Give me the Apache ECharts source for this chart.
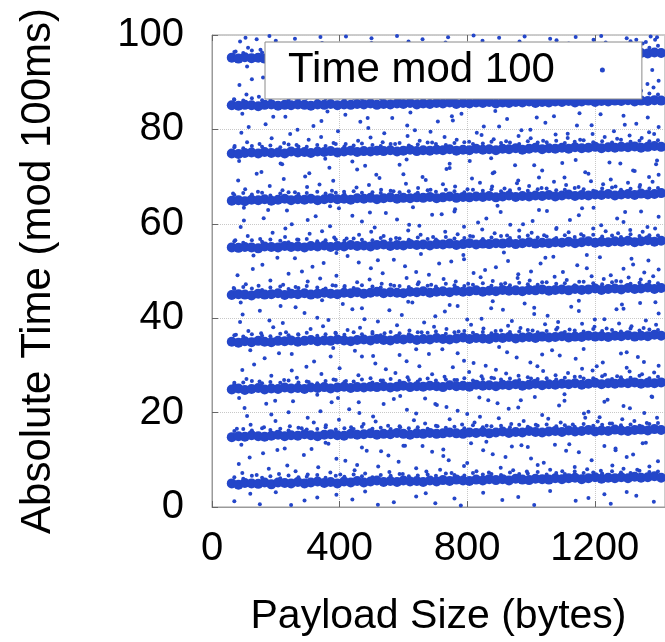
<!DOCTYPE html>
<html>
<head>
<meta charset="utf-8">
<script src="https://cdn.jsdelivr.net/npm/echarts@6/dist/echarts.min.js"></script>
<style>
  html, body { margin: 0; padding: 0; background: #fff; }
  #chart { width: 665px; height: 642px; }
</style>
</head>
<body>
<div id="chart"></div>
<script>
// axis ticks
const xTicks = [0, 400, 800, 1200];
const yTicks = [0, 20, 40, 60, 80, 100];

// payload sizes sampled along each dense band
const coreX = [62,83,103,124,145,165,186,207,228,248,269,290,310,331,352,372,393,414,435,455,
  476,497,517,538,559,580,600,621,642,662,683,704,724,745,766,787,807,828,849,869,
  890,911,931,952,973,994,1014,1035,1056,1076,1097,1118,1138,1159,1180,1201,1221,1242,1263,1283,
  1304,1325,1345,1366,1387,1408];

// dense band centres (time mod 100ms), one per 10ms slot
const core05 = [5.0,4.7,5.1,5.0,4.9,5.2,4.8,5.2,5.1,5.0,5.3,5.0,5.2,5.4,5.1,5.3,5.0,5.4,5.2,5.5,
  5.2,5.4,5.6,5.3,5.5,5.3,5.6,5.4,5.5,5.3,5.6,5.4,5.7,5.5,5.8,5.6,5.5,5.8,5.6,5.9,
  5.7,5.9,5.6,6.0,5.8,5.7,6.0,5.9,5.8,6.1,5.9,6.1,6.2,5.9,6.1,6.3,6.0,6.2,6.1,6.3,6.1,6.4,6.2,6.3,6.5,6.2];
const core15 = [14.8,15.0,14.9,15.2,15.0,14.9,15.1,15.3,15.0,15.2,15.1,15.4,15.2,15.0,15.3,15.4,15.2,15.1,15.5,15.3,
  15.4,15.6,15.3,15.5,15.4,15.7,15.5,15.3,15.6,15.5,15.7,15.5,15.6,15.8,15.6,15.5,15.8,15.7,15.9,15.6,
  15.8,16.0,15.7,15.9,15.8,16.1,15.9,15.8,16.0,16.1,15.9,16.2,16.0,16.1,16.3,16.0,16.2,16.1,16.4,16.2,16.1,16.3,16.4,16.2,16.5,16.3];
const core25 = [24.9,25.1,24.8,25.0,25.2,24.9,25.1,25.0,25.3,25.1,25.2,25.0,25.3,25.2,25.4,25.1,25.3,25.5,25.2,25.4,
  25.3,25.5,25.4,25.6,25.3,25.5,25.7,25.4,25.6,25.5,25.7,25.6,25.4,25.8,25.6,25.7,25.5,25.9,25.7,25.8,
  25.6,25.9,25.8,26.0,25.7,25.9,26.1,25.8,26.0,25.9,26.1,26.0,26.2,25.9,26.1,26.3,26.0,26.2,26.1,26.3,26.2,26.4,26.1,26.3,26.2,26.4];
const core35 = [35.0,34.8,35.1,34.9,35.2,35.0,34.9,35.2,35.1,35.3,35.0,35.2,35.4,35.1,35.3,35.2,35.5,35.3,35.1,35.4,
  35.5,35.3,35.6,35.4,35.3,35.6,35.5,35.7,35.4,35.6,35.5,35.8,35.6,35.5,35.7,35.9,35.6,35.8,35.7,35.6,
  35.9,35.8,36.0,35.7,35.9,36.0,35.8,36.1,35.9,36.0,36.2,35.9,36.1,36.0,36.3,36.1,36.2,36.0,36.3,36.2,36.4,36.1,36.3,36.2,36.5,36.3];
const core45 = [44.9,45.1,45.0,44.8,45.2,45.0,45.1,45.3,44.9,45.2,45.1,45.3,45.0,45.2,45.4,45.2,45.1,45.4,45.3,45.5,
  45.2,45.4,45.6,45.3,45.5,45.4,45.3,45.6,45.5,45.7,45.4,45.6,45.7,45.5,45.8,45.6,45.7,45.9,45.6,45.8,
  45.7,46.0,45.8,45.9,45.7,46.0,45.9,46.1,45.8,46.0,46.1,45.9,46.2,46.0,46.1,46.3,46.0,46.2,46.3,46.1,46.4,46.2,46.3,46.5,46.2,46.4];
const core55 = [55.0,54.9,55.1,55.0,54.8,55.2,55.1,55.0,55.3,55.1,55.2,55.0,55.3,55.2,55.4,55.1,55.3,55.2,55.5,55.3,
  55.4,55.2,55.5,55.6,55.3,55.5,55.4,55.7,55.5,55.6,55.4,55.7,55.6,55.8,55.5,55.7,55.9,55.6,55.8,55.7,
  55.9,55.8,56.0,55.7,55.9,56.1,55.8,56.0,55.9,56.1,56.0,56.2,55.9,56.1,56.3,56.0,56.2,56.1,56.3,56.2,56.4,56.1,56.3,56.5,56.2,56.4];
const core65 = [64.9,65.0,64.8,65.1,65.0,65.2,64.9,65.1,65.3,65.0,65.2,65.1,65.3,65.0,65.2,65.4,65.2,65.3,65.1,65.4,
  65.3,65.5,65.2,65.4,65.6,65.3,65.5,65.4,65.6,65.5,65.7,65.4,65.6,65.8,65.5,65.7,65.6,65.8,65.7,65.9,
  65.6,65.8,66.0,65.7,65.9,65.8,66.0,65.9,66.1,65.8,66.0,66.2,65.9,66.1,66.0,66.2,66.1,66.3,66.0,66.2,66.3,66.1,66.4,66.2,66.3,66.5];
const core75 = [74.9,74.8,75.0,75.1,74.9,75.2,75.0,75.1,74.9,75.3,75.1,75.2,75.0,75.3,75.2,75.4,75.1,75.3,75.5,75.2,
  75.4,75.3,75.5,75.4,75.6,75.3,75.5,75.7,75.4,75.6,75.5,75.7,75.6,75.8,75.5,75.7,75.6,75.9,75.7,75.8,
  75.6,75.9,75.8,76.0,75.7,75.9,76.1,75.8,76.0,75.9,76.1,75.9,76.2,76.0,76.1,76.3,76.0,76.2,76.1,76.3,76.2,76.4,76.1,76.3,76.5,76.3];
const core85 = [85.1,85.0,85.2,85.1,84.9,85.2,85.3,85.0,85.2,85.1,85.3,85.2,85.0,85.3,85.2,85.4,85.1,85.3,85.2,85.4,
  85.3,85.5,85.2,85.4,85.3,85.5,85.4,85.6,85.3,85.5,85.4,85.6,85.5,85.7,85.4,85.6,85.5,85.7,85.6,85.8,
  85.5,85.7,85.6,85.8,85.7,85.9,85.6,85.8,85.7,85.9,85.8,86.0,85.7,85.9,86.1,85.8,86.0,85.9,86.1,86.0,86.2,85.9,86.1,86.0,86.2,86.1];
const core95 = [95.2,95.0,95.3,95.1,95.2,95.0,95.3,95.2,95.1,95.4,95.2,95.3,95.1,95.4,95.3,95.5,95.2,95.4,95.3,95.5,
  95.4,95.6,95.3,95.5,95.4,95.6,95.5,95.7,95.4,95.6,95.5,95.7,95.6,95.8,95.5,95.7,95.6,95.8,95.7,95.9,
  95.6,95.8,95.7,95.9,95.8,96.0,95.7,95.9,95.8,96.0,95.9,96.1,95.8,96.0,96.2,95.9,96.1,96.0,96.2,96.1,96.3,96.0,96.2,96.1,96.3,96.2];

// payload sizes for the crowded rim just above each band
const rimX = [70,98,125,157,183,214,240,271,297,330,356,388,415,444,470,503,529,560,588,617,
  645,676,702,733,760,791,818,849,876,906,934,963,990,1021,1049,1079,1106,1137,1165,1195,
  1223,1254,1282,1312,1340,1371,1398];

const rim05 = [6.3,6.0,6.6,6.2,6.5,6.1,6.7,6.3,6.4,6.8,6.2,6.6,6.4,6.9,6.5,6.3,6.8,6.6,7.0,6.5,
  6.7,6.9,6.6,7.1,6.8,6.7,7.2,6.9,7.0,6.8,7.3,7.0,7.1,7.4,6.9,7.2,7.0,7.5,7.2,7.3,7.1,7.6,7.3,7.2,7.7,7.4,7.5];
const rim15 = [16.1,16.5,16.2,16.7,16.3,16.6,16.2,16.8,16.4,16.5,16.9,16.4,16.7,16.5,17.0,16.6,16.8,16.5,17.1,16.7,
  16.9,16.6,17.2,16.8,17.0,16.7,17.3,16.9,17.1,17.2,16.9,17.4,17.0,17.2,17.5,17.1,17.3,17.0,17.6,17.2,17.4,17.7,17.3,17.5,17.2,17.6,17.8];
const rim25 = [26.0,26.4,26.7,26.2,26.5,26.3,26.8,26.4,26.6,26.2,26.7,26.9,26.5,26.6,27.0,26.4,26.8,27.1,26.7,26.9,
  26.6,27.2,26.8,27.0,26.9,27.3,26.8,27.1,27.4,27.0,27.2,26.9,27.5,27.1,27.3,27.0,27.4,27.6,27.2,27.3,27.7,27.1,27.5,27.4,27.8,27.3,27.6];
const rim35 = [36.4,36.1,36.6,36.3,36.2,36.7,36.4,36.5,36.9,36.3,36.6,36.8,36.5,37.0,36.6,36.7,36.4,37.1,36.8,36.6,
  37.0,36.9,37.2,36.7,37.0,37.3,36.9,37.1,36.8,37.4,37.1,37.2,37.5,37.0,37.3,37.6,37.1,37.4,37.2,37.7,37.3,37.5,37.2,37.8,37.4,37.6,37.5];
const rim45 = [46.2,46.6,46.3,46.0,46.5,46.7,46.2,46.4,46.8,46.5,46.3,46.9,46.6,46.4,47.0,46.7,46.5,47.1,46.8,46.6,
  47.2,46.9,46.7,47.3,47.0,46.8,47.1,47.4,46.9,47.2,47.0,47.5,47.2,47.1,47.6,47.3,47.4,47.0,47.7,47.4,47.2,47.6,47.8,47.3,47.5,47.7,47.4];
const rim55 = [56.3,56.0,56.5,56.2,56.7,56.4,56.1,56.6,56.8,56.3,56.5,56.7,56.4,56.9,56.6,56.5,57.0,56.7,56.9,56.6,
  57.1,56.8,56.7,57.2,56.9,57.0,57.3,56.8,57.1,57.4,57.0,57.2,57.5,57.1,57.3,57.0,57.6,57.2,57.4,57.7,57.3,57.5,57.2,57.8,57.4,57.6,57.5];
const rim65 = [66.1,66.5,66.2,66.6,66.0,66.4,66.7,66.3,66.5,66.8,66.4,66.6,66.3,66.9,66.6,66.7,66.5,67.0,66.7,66.9,
  66.6,67.1,66.8,67.2,66.9,66.7,67.2,67.0,67.3,66.9,67.1,67.4,67.0,67.3,67.5,67.1,67.2,67.6,67.3,67.0,67.5,67.7,67.2,67.4,67.8,67.5,67.6];
const rim75 = [76.2,76.0,76.5,76.3,76.6,76.2,76.8,76.4,76.3,76.7,76.5,76.9,76.4,76.6,77.0,76.7,76.5,76.9,77.1,76.6,
  76.8,77.2,76.9,76.7,77.1,77.3,76.9,77.0,77.4,77.1,77.2,76.9,77.5,77.2,77.3,77.6,77.1,77.4,77.7,77.3,77.5,77.2,77.8,77.4,77.6,77.5,77.7];
const rim85 = [86.3,86.1,86.6,86.2,86.5,86.8,86.3,86.4,86.7,86.2,86.6,86.9,86.4,86.7,86.5,87.0,86.6,86.8,86.5,87.1,
  86.7,86.9,87.2,86.8,86.6,87.0,87.3,86.9,87.1,86.8,87.2,87.4,87.0,87.1,87.5,87.2,86.9,87.3,87.6,87.1,87.4,87.2,87.7,87.3,87.5,87.6,87.4];
const rim95 = [96.4,96.2,96.7,96.3,96.5,96.9,96.4,96.6,96.3,96.8,96.5,97.0,96.6,96.7,96.5,97.1,96.8,96.6,97.0,96.9,
  97.2,96.7,97.0,97.3,96.9,97.1,96.8,97.4,97.0,97.2,97.5,97.1,97.3,97.0,97.6,97.2,97.4,97.1,97.7,97.3,97.5,97.2,97.8,97.4,97.6,97.3,97.7];

// scattered packets around each band: [payload bytes, time mod 100]
const spread05 = [[95,7.2],[140,6.8],[178,8.1],[210,7.0],[262,7.6],[300,6.9],[333,8.4],[371,7.3],[402,6.9],[447,7.8],
  [480,7.1],[521,8.6],[556,7.4],[598,7.0],[640,8.2],[672,7.5],[715,7.9],[751,7.2],[790,8.7],[829,7.6],
  [868,7.3],[905,8.3],[944,7.8],[987,7.5],[1021,8.9],[1060,7.9],[1098,7.6],[1137,8.5],[1176,8.0],[1219,7.7],
  [1255,8.8],[1290,8.1],[1333,7.9],[1371,8.6],
  [118,10.5],[205,12.1],[288,11.0],[365,13.4],[418,9.8],[470,12.6],[553,10.9],[605,13.0],[690,11.7],[742,9.9],
  [812,13.5],[880,11.2],[940,12.8],[1000,10.3],[1075,13.2],[1150,11.6],[1230,12.9],[1300,10.6],[1360,13.6],
  [70,1.2],[150,0.6],[248,0.4],[330,2.0],[440,1.6],[520,0.5],[640,2.2],[700,0.8],[780,0.3],[910,1.5],
  [1010,0.4],[1180,1.9],[1250,0.7],[1330,2.4],[1385,1.1]];
const spread15 = [[78,16.6],[121,17.4],[163,16.9],[199,18.2],[244,17.1],[281,16.7],[319,17.9],[357,17.3],[398,18.5],[436,16.9],
  [475,17.6],[513,18.1],[552,17.2],[590,16.9],[633,18.4],[668,17.7],[707,17.1],[745,18.6],[784,17.5],[823,17.9],
  [861,17.2],[899,18.8],[938,17.6],[977,18.2],[1015,17.4],[1054,18.7],[1093,17.9],[1131,17.5],[1170,18.9],[1209,18.1],
  [1247,17.7],[1286,18.6],[1324,18.2],[1363,17.8],[1395,18.9],
  [102,21.0],[186,19.6],[254,22.4],[340,20.3],[395,23.1],[462,19.9],[538,21.8],[611,20.6],[668,23.0],[735,21.2],
  [800,19.7],[866,22.6],[930,20.8],[1012,23.3],[1088,21.5],[1166,19.8],[1240,22.7],[1310,20.9],[1378,23.4],
  [92,13.2],[228,12.4],[356,13.6],[485,11.9],[600,13.0],[725,12.2],[860,13.8],[990,12.7],[1120,13.3],[1265,12.0],[1350,13.5]];
const spread25 = [[70,26.3],[108,27.1],[149,26.6],[186,27.8],[226,26.9],[266,27.4],[303,26.5],[343,28.2],[381,27.0],[420,26.7],
  [459,27.9],[497,27.3],[536,26.8],[575,28.4],[613,27.5],[652,27.0],[690,28.1],[729,27.6],[768,26.9],[806,28.6],
  [845,27.7],[884,27.3],[922,28.3],[961,27.8],[1000,27.2],[1038,28.8],[1077,27.9],[1116,28.4],[1154,27.6],[1193,28.9],
  [1232,28.0],[1270,27.7],[1309,28.7],[1348,28.1],[1386,28.5],
  [132,30.2],[210,32.6],[296,29.7],[372,31.9],[448,33.1],[512,30.4],[588,32.2],[650,29.8],[722,33.4],[790,31.0],
  [858,29.9],[925,32.8],[998,30.6],[1066,33.2],[1140,31.4],[1206,29.8],[1282,32.5],[1354,30.7],
  [85,23.1],[198,22.5],[330,23.8],[460,22.2],[590,23.5],[700,21.8],[838,23.2],[968,22.6],[1105,23.9],[1230,22.3],[1380,23.3]];
const spread35 = [[75,36.5],[114,37.3],[154,36.8],[192,38.1],[232,37.0],[270,36.6],[309,37.7],[348,38.3],[387,36.9],[425,37.5],
  [464,38.0],[503,37.1],[541,36.8],[580,38.5],[619,37.4],[657,37.0],[696,38.2],[735,37.7],[773,37.2],[812,38.6],
  [851,37.8],[889,37.3],[928,38.4],[967,37.9],[1005,37.4],[1044,38.7],[1083,38.0],[1121,37.6],[1160,38.8],[1199,38.2],
  [1237,37.8],[1276,38.9],[1315,38.3],[1353,37.9],[1392,38.6],
  [96,40.8],[180,39.5],[262,42.3],[330,40.1],[410,43.0],[478,39.8],[556,41.7],[628,43.3],[700,40.4],[770,42.6],
  [845,39.9],[912,41.8],[980,43.1],[1052,40.5],[1126,42.4],[1200,39.7],[1268,41.9],[1342,43.2],
  [120,33.2],[250,32.4],[380,33.7],[505,32.0],[640,33.4],[770,32.6],[900,33.9],[1035,32.3],[1165,33.5],[1300,32.8]];
const spread45 = [[68,46.4],[106,47.2],[146,46.9],[183,48.0],[223,47.1],[262,46.6],[300,47.8],[339,48.4],[378,47.0],[416,46.8],
  [455,47.6],[494,48.2],[532,47.3],[571,46.9],[610,48.5],[648,47.6],[687,47.1],[726,48.3],[764,47.8],[803,47.3],
  [842,48.7],[880,47.9],[919,47.4],[958,48.5],[996,48.0],[1035,47.6],[1074,48.8],[1112,48.1],[1151,47.7],[1190,48.9],
  [1228,48.3],[1267,47.9],[1306,48.6],[1344,48.2],[1383,48.9],
  [128,50.4],[205,52.8],[282,49.9],[350,51.7],[425,53.2],[498,50.6],[570,52.4],[640,49.8],[712,51.6],[788,53.4],
  [856,50.2],[928,52.1],[1000,49.9],[1070,53.0],[1145,51.2],[1216,52.9],[1290,50.5],[1368,52.2],
  [90,43.3],[215,42.6],[345,43.8],[470,42.1],[615,43.5],[745,42.8],[880,43.6],[1010,42.2],[1150,43.7],[1285,42.9],[1390,43.4]];
const spread55 = [[73,56.5],[112,57.4],[151,56.8],[190,58.1],[229,57.2],[267,56.7],[306,57.9],[345,58.4],[383,57.1],[422,56.9],
  [461,57.7],[499,58.3],[538,57.4],[577,57.0],[615,58.6],[654,57.7],[693,57.2],[731,58.3],[770,57.8],[809,57.4],
  [847,58.8],[886,58.0],[925,57.5],[963,58.6],[1002,58.1],[1041,57.6],[1079,58.9],[1118,58.2],[1157,57.8],[1195,59.0],
  [1234,58.4],[1273,58.0],[1311,58.7],[1350,58.3],[1389,59.0],
  [100,60.7],[176,62.9],[250,59.9],[325,61.6],[398,63.3],[470,60.5],[545,62.3],[618,59.8],[690,61.9],[762,63.1],
  [834,60.3],[905,62.5],[975,59.9],[1050,62.7],[1122,60.8],[1196,63.4],[1270,61.1],[1345,62.6],
  [130,53.3],[260,52.7],[390,53.8],[520,52.3],[655,53.6],[790,52.5],[915,53.9],[1045,52.8],[1175,53.4],[1315,52.6]];
const spread65 = [[66,66.4],[104,67.3],[144,66.8],[181,68.0],[221,67.1],[260,66.7],[298,67.8],[337,68.3],[376,67.0],[414,66.8],
  [453,67.7],[492,68.2],[530,67.2],[569,66.9],[608,68.5],[646,67.6],[685,67.2],[724,68.4],[762,67.9],[801,67.3],
  [840,68.7],[878,67.9],[917,67.5],[956,68.6],[994,68.0],[1033,67.6],[1072,68.9],[1110,68.2],[1149,67.8],[1188,69.0],
  [1226,68.4],[1265,67.9],[1304,68.7],[1342,68.2],[1381,68.9],
  [140,70.6],[215,72.8],[292,70.0],[368,71.9],[440,73.2],[515,70.4],[588,72.5],[660,69.9],[735,71.6],[808,73.3],
  [880,70.7],[950,72.4],[1025,69.8],[1098,72.9],[1170,70.9],[1246,73.0],[1320,71.3],[1392,72.6],
  [100,63.4],[235,62.8],[370,63.7],[495,62.4],[630,63.5],[760,62.6],[895,63.8],[1025,62.9],[1160,63.3],[1295,62.5]];
const spread75 = [[71,76.5],[110,77.3],[149,76.9],[187,78.1],[226,77.1],[265,76.7],[303,77.8],[342,78.4],[381,77.1],[419,76.9],
  [458,77.6],[497,78.3],[535,77.3],[574,76.9],[613,78.6],[651,77.6],[690,77.2],[729,78.4],[767,77.8],[806,77.4],
  [845,78.8],[883,77.9],[922,77.5],[961,78.6],[999,78.1],[1038,77.6],[1077,78.9],[1115,78.2],[1154,77.8],[1193,79.0],
  [1231,78.4],[1270,78.0],[1309,78.7],[1347,78.2],[1386,79.0],
  [115,80.5],[192,82.7],[268,79.9],[343,81.8],[418,83.1],[490,80.3],[565,82.4],[636,79.8],[708,81.7],[782,83.3],
  [852,80.6],[925,82.2],[998,79.9],[1072,82.8],[1144,80.8],[1218,83.2],[1294,81.0],[1366,82.5],
  [85,73.3],[220,72.6],[355,73.8],[480,72.3],[610,73.6],[745,72.7],[875,73.9],[1010,72.4],[1140,73.5],[1280,72.8],[1395,73.4]];
const spread85 = [[69,86.4],[108,87.4],[147,86.9],[185,88.0],[224,87.2],[263,86.7],[301,87.9],[340,88.3],[379,87.0],[417,86.9],
  [456,87.7],[495,88.2],[533,87.3],[572,86.9],[611,88.5],[649,87.6],[688,87.1],[727,88.3],[765,87.8],[804,87.3],
  [843,88.7],[881,87.9],[920,87.4],[959,88.6],[997,88.0],[1036,87.6],[1075,88.9],[1113,88.1],[1152,87.7],[1191,89.0],
  [1229,88.3],[1268,87.9],[1307,88.6],[1345,88.2],[1384,88.9],
  [125,90.6],[200,92.9],[276,90.0],[352,91.8],[426,93.3],[500,90.4],[575,92.5],[648,89.9],[720,91.7],[794,93.2],
  [866,90.6],[938,92.3],[1010,90.0],[1084,92.8],[1158,90.9],[1232,93.1],[1306,91.2],[1380,92.6],
  [95,83.3],[230,82.7],[362,83.8],[488,82.4],[622,83.6],[752,82.8],[888,83.9],[1018,82.5],[1152,83.4],[1290,82.9]];
const spread95 = [[74,96.5],[113,97.3],[152,96.9],[190,98.1],[229,97.1],[268,96.7],[306,97.8],[345,98.3],[384,97.1],[422,96.9],
  [461,97.7],[500,98.3],[538,97.3],[577,96.9],[616,98.6],[654,97.6],[693,97.2],[732,98.4],[770,97.8],[809,97.4],
  [848,98.8],[886,97.9],[925,97.5],[964,98.6],[1002,98.1],[1041,97.6],[1080,98.9],[1118,98.2],[1157,97.8],[1196,99.0],
  [1234,98.4],[1273,98.0],[1312,98.7],[1350,98.2],[1389,99.0],
  [105,99.4],[180,99.8],[260,99.2],[340,99.6],[420,99.7],[500,99.3],[580,99.8],[660,99.1],[740,99.5],[820,99.9],
  [900,99.4],[980,99.7],[1060,99.2],[1140,99.6],[1220,99.8],[1300,99.3],[1375,99.7],
  [110,93.3],[240,92.6],[372,93.7],[500,92.4],[632,93.5],[765,92.7],[898,93.8],[1030,92.6],[1162,93.4],[1300,92.9]];

// extra stragglers in the gaps between bands
const gap05 = [[84,9.1],[160,11.4],[236,8.8],[312,12.3],[390,10.2],[455,8.9],[530,11.8],[585,9.6],[660,12.9],[725,10.8],
  [800,9.3],[850,12.0],[920,10.6],[970,13.1],[1040,9.4],[1110,11.9],[1190,9.9],[1265,12.4],[1320,11.1],[1398,9.7]];
const gap15 = [[110,19.3],[170,21.9],[240,20.1],[300,18.9],[375,22.2],[430,20.7],[505,19.2],[570,22.9],[640,19.8],[705,21.6],
  [770,20.4],[840,19.1],[895,22.0],[960,21.1],[1035,19.5],[1105,22.5],[1180,20.2],[1215,19.0],[1290,21.4],[1355,19.9]];
const gap25 = [[95,29.0],[165,31.5],[250,28.9],[320,30.8],[400,29.4],[470,31.9],[545,29.2],[610,30.9],[680,32.4],[755,29.6],
  [820,30.5],[890,29.1],[955,31.7],[1020,29.8],[1090,32.1],[1160,29.3],[1225,30.6],[1300,29.5],[1335,31.8],[1400,29.9]];
const gap35 = [[88,39.2],[150,41.6],[222,39.0],[290,41.1],[365,39.6],[440,41.9],[520,39.3],[595,40.7],[665,39.1],[730,41.4],
  [800,39.7],[875,42.1],[940,39.4],[1010,40.9],[1085,39.2],[1150,41.5],[1230,39.8],[1290,42.0],[1360,39.5],[1400,41.0]];
const gap45 = [[80,49.1],[158,51.3],[240,49.4],[315,50.9],[390,49.0],[460,51.8],[535,49.5],[605,51.0],[680,49.2],[750,52.0],
  [820,49.6],[890,50.8],[960,49.3],[1030,51.6],[1100,49.8],[1175,50.6],[1250,49.1],[1320,51.4],[1355,49.7],[1400,50.3]];
const gap55 = [[90,59.3],[162,61.2],[230,59.0],[300,60.8],[370,59.5],[440,61.7],[510,59.2],[580,60.9],[650,59.6],[720,62.0],
  [790,59.4],[860,61.1],[935,59.8],[1005,60.6],[1080,59.1],[1150,61.8],[1220,59.7],[1290,60.4],[1365,59.3],[1400,61.5]];
const gap65 = [[82,69.2],[155,71.0],[225,69.5],[305,70.7],[380,69.1],[455,71.5],[525,69.7],[600,70.5],[670,69.3],[745,71.8],
  [815,69.6],[885,70.9],[960,69.2],[1035,71.3],[1105,69.8],[1180,70.6],[1250,69.4],[1325,71.2],[1370,69.9],[1400,70.4]];
const gap75 = [[92,79.3],[168,81.1],[245,79.0],[318,80.7],[395,79.6],[465,81.6],[540,79.2],[612,80.8],[685,79.5],[755,81.9],
  [830,79.3],[900,80.6],[970,79.8],[1045,81.4],[1115,79.1],[1190,80.9],[1260,79.6],[1330,81.2],[1370,79.4],[1400,80.5]];
const gap85 = [[86,89.4],[160,91.0],[238,89.1],[310,90.6],[385,89.7],[458,91.4],[530,89.3],[600,90.8],[675,89.5],[748,91.7],
  [818,89.2],[890,90.5],[962,89.8],[1034,91.2],[1106,89.4],[1178,90.7],[1250,89.1],[1322,91.5],[1365,89.6],[1400,90.3]];
const gap95 = [[88,98.6],[140,99.1],[200,98.8],[1330,99.0],[1360,98.5],[1395,99.5],[120,2.8],[200,3.1],[290,1.4],[390,2.6],
  [480,3.3],[570,1.0],[670,2.9],[760,1.8],[850,3.0],[960,2.1],[1060,3.4],[1140,1.3],[1230,2.7],[1300,3.2]];

const coreBands = [core05, core15, core25, core35, core45, core55, core65, core75, core85, core95];
const rimBands = [rim05, rim15, rim25, rim35, rim45, rim55, rim65, rim75, rim85, rim95];
const spreads = [spread05, spread15, spread25, spread35, spread45, spread55, spread65, spread75, spread85, spread95,
  gap05, gap15, gap25, gap35, gap45, gap55, gap65, gap75, gap85, gap95];

// pair a shared x column with each band's y column
function pairUp(xs, bands) {
  const out = [];
  bands.forEach(band => {
    const n = Math.min(band.length, xs.length);
    for (let i = 0; i < n; i++) out.push([xs[i], band[i]]);
  });
  return out;
}

const coreData = pairUp(coreX, coreBands);
const dotData = pairUp(rimX, rimBands).concat(...spreads);

const FONT = '"Liberation Sans", Arial, Helvetica, sans-serif';
const BLUE = '#2446c9';

const chart = echarts.init(document.getElementById('chart'), null, { renderer: 'canvas' });

chart.setOption({
  animation: false,
  backgroundColor: '#fff',
  grid: {
    left: 212, top: 35, right: -10, bottom: 132,
    show: true, borderColor: '#9a9a9a', borderWidth: 1
  },
  legend: {
    data: ['Time mod 100'],
    left: 265, top: 42,
    align: 'right',
    backgroundColor: '#fff',
    borderColor: '#8a8a8a', borderWidth: 1,
    padding: [7, 37, 8, 23],
    itemWidth: 5, itemHeight: 5,
    selectedMode: false,
    textStyle: { fontSize: 42, color: '#000', fontFamily: FONT, padding: [0, 40, 0, 0] }
  },
  xAxis: [{
    type: 'value', min: 0, max: 1420, interval: 400,
    name: 'Payload Size (bytes)', nameLocation: 'middle', nameGap: 89,
    nameTextStyle: { fontSize: 41, color: '#000', fontFamily: FONT },
    axisLine: { show: true, lineStyle: { color: '#9a9a9a' } },
    axisTick: { inside: true, length: 6, lineStyle: { color: '#666' } },
    axisLabel: {
      fontSize: 40, color: '#000', fontFamily: FONT, margin: 22,
      showMaxLabel: false,
      formatter: v => (xTicks.indexOf(v) >= 0 ? String(v) : '')
    },
    splitLine: { show: true, lineStyle: { type: 'dotted', color: '#c8c8c8' } }
  }, {
    type: 'value', min: 0, max: 1420, interval: 400, position: 'top',
    axisLine: { show: false },
    axisTick: { inside: true, length: 6, lineStyle: { color: '#666' } },
    axisLabel: { show: false },
    splitLine: { show: false }
  }],
  yAxis: {
    type: 'value', min: 0, max: 100, interval: 20,
    name: 'Absolute Time (mod 100ms)', nameLocation: 'middle', nameGap: 153,
    nameTextStyle: { fontSize: 42, color: '#000', fontFamily: FONT },
    axisLine: { show: true, lineStyle: { color: '#9a9a9a' } },
    axisTick: { inside: true, length: 6, lineStyle: { color: '#666' } },
    axisLabel: {
      fontSize: 40, color: '#000', fontFamily: FONT, margin: 28,
      formatter: v => (yTicks.indexOf(v) >= 0 ? String(v) : '')
    },
    splitLine: { show: true, lineStyle: { type: 'dotted', color: '#c8c8c8' } }
  },
  series: [{
    name: 'Time mod 100',
    type: 'scatter',
    symbol: 'circle',
    symbolSize: 10,
    itemStyle: { color: BLUE, opacity: 1 },
    silent: true,
    data: coreData
  }, {
    name: 'Time mod 100',
    type: 'scatter',
    symbol: 'circle',
    symbolSize: 4,
    itemStyle: { color: BLUE, opacity: 1 },
    silent: true,
    data: dotData
  }]
});
</script>
</body>
</html>
